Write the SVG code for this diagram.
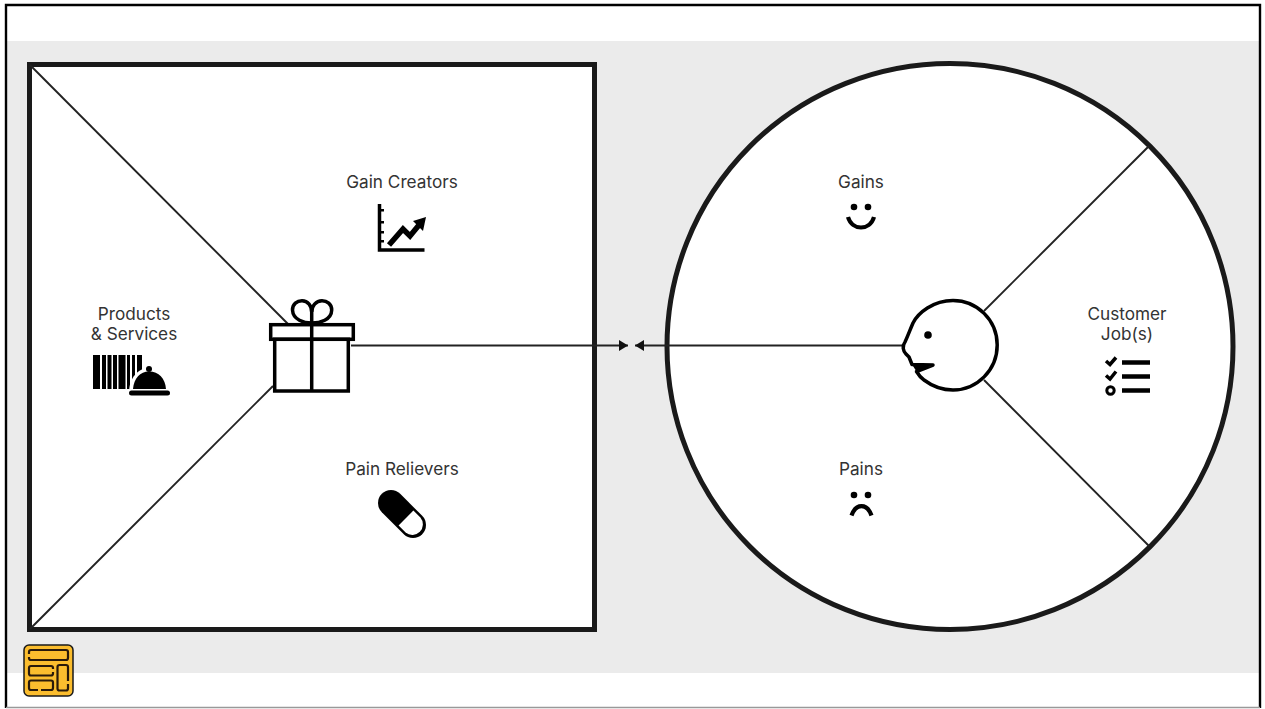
<svg xmlns="http://www.w3.org/2000/svg" width="1265" height="709" viewBox="0 0 1265 709">
<defs>
<marker id="arrow" markerUnits="userSpaceOnUse" markerWidth="10" markerHeight="12" refX="9" refY="5.500" orient="auto"><path d="M0 0L9 5.500L0 11Z" fill="#111"/></marker>
</defs>
<style>
text{font-family:"Inter","Liberation Sans",sans-serif;font-size:17.2px;fill:#333;text-anchor:middle}
.thin{fill:none;stroke:#222;stroke-width:1.9}
.ic{fill:none;stroke:#000;stroke-width:3.500}
.f{fill:#000;stroke:none}
</style>
<rect width="1265" height="709" fill="#fff"/>
<rect x="7" y="41" width="1252" height="632" fill="#ebebeb"/>
<path d="M6 708V5H1260V708" fill="none" stroke="#000" stroke-width="2.400"/>
<path d="M6 707.500H1260" fill="none" stroke="#999" stroke-width="1.500"/>
<g id="value-map">
<rect x="29.500" y="64.500" width="565" height="565" fill="#fff" stroke="#1a1a1a" stroke-width="5"/>
</g>
<g id="customer-profile">
<circle cx="950" cy="346.500" r="283" fill="#fff" stroke="#1a1a1a" stroke-width="5"/>
</g>
<g id="connectors">
<path class="thin" d="M30 65L289 325"/>
<path class="thin" d="M30 629L273 386"/>
<path class="thin" d="M1149 146L984 311"/>
<path class="thin" d="M1149 546L984 380"/>
<path class="thin" d="M351 345.500H628" marker-end="url(#arrow)"/>
<path class="thin" d="M903 345.500H635" marker-end="url(#arrow)"/>
</g>
<g id="gift">
<path class="ic" d="M311.700 323C304 323 293 320 292.500 310C292.500 304 297 300.700 302 300.700C308 300.700 311.700 306 311.700 312C311.700 306 316 300.700 322 300.700C327 300.700 331.700 304 331.700 310C331.500 320 320 323 311.700 323Z"/>
<rect x="270.700" y="324.700" width="82.600" height="14.600" fill="#fff" stroke="#000" stroke-width="3.500"/>
<rect x="274.700" y="339.300" width="73.600" height="51.700" fill="#fff" stroke="#000" stroke-width="3.500"/>
<path class="ic" d="M311.700 310V391"/>
</g>
<g id="face">
<path d="M924 380C932 386 942 390 953 390C977 390 997.200 370 997.200 345C997.200 320 977 300.500 953 300.500C933 300.500 918 313 913 323C910 330 907 338 905 342C902 346 903 351 906 354L909 357L912 364.500L933 365L916.500 371.500C918 374 921 378 924 380Z" fill="#fff" stroke="#000" stroke-width="3.500" stroke-linejoin="round"/>
<path class="f" d="M912 364.500L933 365L916.500 371.500Z"/>
<circle class="f" cx="928" cy="335" r="3.800"/>
</g>
<g id="products-services">
<text x="134" y="319.500">Products</text>
<text x="134" y="339.500">&amp; Services</text>
<path class="f" d="M93 355h7v34h-7zM102 355h4v34h-4zM107.500 355h4v34h-4zM113 355h4v34h-4zM118.500 355h7v34h-7zM127 355h3v34h-3zM132 355h3v34h-3zM137 355h5v34h-5z"/>
<path d="M129 393C129 378 138 368 149 368C160 368 170 378 170 393Z" fill="#fff"/>
<circle class="f" cx="149" cy="369" r="3"/>
<path class="f" d="M133 389C134 378 140 371.500 149 371.500C159 371.500 165 378 166 389Z"/>
<rect class="f" x="129" y="390.500" width="41" height="5" rx="2.500"/>
</g>
<g id="gain-creators">
<text x="402" y="187.500">Gain Creators</text>
<path class="ic" d="M379.500 204V250H424.500"/>
<path class="f" d="M379 209h5v2.500h-5zM379 221h5v2.500h-5zM379 231h5v2.500h-5zM379 240h5v2.500h-5z"/>
<path d="M389 245L403 229L410 236L419 225" fill="none" stroke="#000" stroke-width="5.500"/>
<path class="f" d="M413 221L426 217L423 231Z"/>
</g>
<g id="pain-relievers">
<text x="402" y="474.500">Pain Relievers</text>
<path d="M391 503L413 525" fill="none" stroke="#000" stroke-width="26" stroke-linecap="round"/>
<path d="M413.400 510.600L420.400 517.600A10.500 10.500 0 0 1 405.600 532.400L398.600 525.400Z" fill="#fff"/>
</g>
<g id="gains">
<text x="861" y="187.500">Gains</text>
<circle class="f" cx="854" cy="207" r="3.300"/>
<circle class="f" cx="868" cy="207" r="3.300"/>
<path d="M848 217C852 231 870 231 874 217" fill="none" stroke="#000" stroke-width="4.200"/>
</g>
<g id="pains">
<text x="861" y="474.500">Pains</text>
<circle class="f" cx="854" cy="495" r="3.300"/>
<circle class="f" cx="868" cy="495" r="3.300"/>
<path d="M851.500 515.500C856 503 867 503 871.500 515.500" fill="none" stroke="#000" stroke-width="4.200"/>
</g>
<g id="customer-jobs">
<text x="1127" y="319.500">Customer</text>
<text x="1127" y="339.500">Job(s)</text>
<path d="M1106 361L1110 364.500L1116 357.500M1106 375.500L1110 379L1116 371.500" fill="none" stroke="#000" stroke-width="3.500"/>
<circle cx="1110.500" cy="390.500" r="3.700" fill="none" stroke="#000" stroke-width="3"/>
<path d="M1122 362.500H1150M1122 376.500H1150M1122 390.500H1150" fill="none" stroke="#000" stroke-width="4.500"/>
</g>
<g id="badge">
<rect x="24" y="645" width="49" height="51" rx="5" fill="#fbbd2e" stroke="#1a1a1a" stroke-width="1.500"/>
<g fill="none" stroke="#2a1a0a" stroke-width="2.200">
<rect x="29" y="650" width="39" height="10" rx="2"/>
<rect x="29" y="666" width="24" height="9.500" rx="2"/>
<rect x="29" y="680.500" width="24" height="9.500" rx="2"/>
<rect x="57.500" y="665" width="10.500" height="25.500" rx="2"/>
</g>
<g fill="#fbbd2e">
<rect x="27" y="654" width="4" height="3"/>
<rect x="51" y="669" width="4" height="3"/>
<rect x="38" y="688" width="3" height="4"/>
<rect x="66" y="681" width="4" height="3"/>
</g>
</g>
</svg>
